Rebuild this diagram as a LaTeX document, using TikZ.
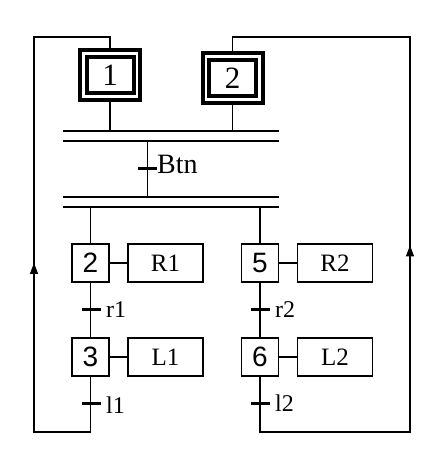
\documentclass[tikz,border=0pt]{standalone}
\usepackage{fontspec}
\setmainfont{Liberation Serif}
\newfontfamily\digitfont{Liberation Sans}
\usetikzlibrary{arrows.meta,decorations.markings}
\begin{document}
\begin{tikzpicture}[x=1pt,y=-1pt,
  wire/.style={line width=1.1pt},
  initout/.style={draw,line width=4pt,minimum width=60pt,minimum height=50pt,inner sep=0pt},
  initin/.style={draw,line width=4pt,minimum width=47pt,minimum height=36pt,inner sep=0pt,font=\fontsize{31}{31}\selectfont},
  stepbox/.style={draw,line width=1.2pt,minimum width=37pt,minimum height=38pt,inner sep=0pt,font=\digitfont\fontsize{28}{28}\selectfont},
  actbox/.style={draw,line width=1.2pt,minimum width=75pt,minimum height=38pt,inner sep=0pt,font=\fontsize{25}{25}\selectfont},
  tick/.style={fill=black,minimum width=19pt,minimum height=3pt,inner sep=0pt},
  tlabel/.style={anchor=base west,inner sep=0pt,font=\fontsize{24}{24}\selectfont},
  loopup/.style={wire,postaction={decorate},decoration={markings,mark=at position #1 with {\arrow{Triangle[length=11pt,width=8pt]}}}}
]
\useasboundingbox (0,0) rectangle (430,464);

% initial steps
\node[initout] (s1) at (110,75) {};
\node[initin] (s1in) at (s1.center) {1};
\node[initout] (s2) at (232.5,78) {};
\node[initin] (s2in) at (s2.center) {2};

% synchronisation bars
\coordinate (b1a) at (63,131); \coordinate (b1b) at (279,131);
\coordinate (b2a) at (63,141); \coordinate (b2b) at (279,141);
\coordinate (b3a) at (63,197); \coordinate (b3b) at (279,197);
\coordinate (b4a) at (63,207); \coordinate (b4b) at (279,207);
\draw[wire] (b1a) -- (b1b);
\draw[wire] (b2a) -- (b2b);
\draw[wire] (b3a) -- (b3b);
\draw[wire] (b4a) -- (b4b);
\draw[wire] (s1.south) -- (s1.south |- b1a);
\draw[wire] (s2.south) -- (s2.south |- b1a);

% Btn transition
\node[tick] (tb) at (147.5,168) {};
\draw[wire] (tb |- b2a) -- (tb |- b3a);
\node[tlabel,font=\fontsize{28}{28}\selectfont] (lbtn) at (157,173) {Btn};

% left sequence
\node[stepbox] (s2b) at (90.5,263) {2};
\node[actbox] (a1) at (165.5,263) {R1};
\node[stepbox] (s3) at (90.5,357) {3};
\node[actbox] (a2) at (165.5,357) {L1};
\node[tick] (t1) at (91,309) {};
\node[tick] (t2) at (91,403) {};
\node[tlabel] (lr1) at (106,317) {r1};
\node[tlabel] (ll1) at (106,413) {l1};
\draw[wire] (s2b.north |- b4a) -- (s2b.north);
\draw[wire] (s2b) -- (s3);
\draw[wire] (s2b) -- (a1);
\draw[wire] (s3) -- (a2);

% right sequence
\node[stepbox] (s5) at (260,263) {5};
\node[actbox] (a3) at (335,263) {R2};
\node[stepbox] (s6) at (260,357) {6};
\node[actbox] (a4) at (335,357) {L2};
\node[tick] (t3) at (260,309) {};
\node[tick] (t4) at (260,403) {};
\node[tlabel] (lr2) at (275,317) {r2};
\node[tlabel] (ll2) at (275,411) {l2};
\draw[wire] (s5.north |- b4a) -- (s5.north);
\draw[wire] (s5) -- (s6);
\draw[wire] (s5) -- (a3);
\draw[wire] (s6) -- (a4);

% return loops
\coordinate (la) at (90.5,432); \coordinate (lb) at (34,432);
\coordinate (lc) at (34,37);    \coordinate (ld) at (110,37);
\draw[loopup=281pt] (s3.south) -- (la) -- (lb) -- (lc) -- (ld) -- (s1.north);
\coordinate (ra) at (260,432); \coordinate (rb) at (410,432);
\coordinate (rc) at (410,37);  \coordinate (rd) at (232.5,37);
\draw[loopup=392pt] (s6.south) -- (ra) -- (rb) -- (rc) -- (rd) -- (s2.north);
\end{tikzpicture}
\end{document}
